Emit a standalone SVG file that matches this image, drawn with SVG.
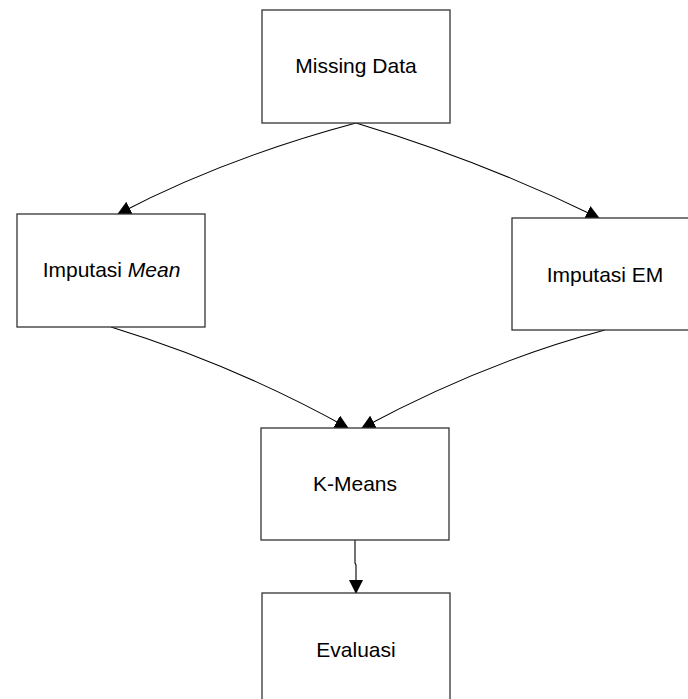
<svg xmlns="http://www.w3.org/2000/svg" width="688" height="699" viewBox="0 0 688 699">
<style>
.box{fill:#fff;stroke:#333;stroke-width:1.3}
.lbl{font-family:"Liberation Sans",Arial,sans-serif;font-size:21px;fill:#000;text-anchor:middle}
.con{fill:none;stroke:#000;stroke-width:1.1}
</style>
<defs>
<marker id="arr" viewBox="0 0 14 14" refX="13" refY="7" markerWidth="14" markerHeight="14" markerUnits="userSpaceOnUse" orient="auto">
<path d="M0,0 L14,7 L0,14 Z" fill="#000"/>
</marker>
</defs>
<rect width="688" height="699" fill="#fff"/>
<g id="connectors">
<path class="con" d="M356,123 Q225,158 118,214" marker-end="url(#arr)"/>
<path class="con" d="M356,123 Q485,162 599,218" marker-end="url(#arr)"/>
<path class="con" d="M111,327 Q235,365 348,428" marker-end="url(#arr)"/>
<path class="con" d="M605,330 Q485,362 362,428" marker-end="url(#arr)"/>
<path class="con" d="M355,540 L355,563 L356,565 L356,593" marker-end="url(#arr)"/>
</g>
<g id="missing-data">
<rect class="box" x="262" y="10" width="188" height="113"/>
<text class="lbl" x="356" y="73">Missing Data</text>
</g>
<g id="imputasi-mean">
<rect class="box" x="17" y="214" width="188" height="113"/>
<text class="lbl" x="111.5" y="277">Imputasi <tspan font-style="italic">Mean</tspan></text>
</g>
<g id="imputasi-em">
<rect class="box" x="512" y="218" width="186" height="112"/>
<text class="lbl" x="605" y="282">Imputasi EM</text>
</g>
<g id="k-means">
<rect class="box" x="261" y="428" width="188" height="112"/>
<text class="lbl" x="355" y="491">K-Means</text>
</g>
<g id="evaluasi">
<rect class="box" x="262" y="593" width="188" height="112"/>
<text class="lbl" x="356" y="657">Evaluasi</text>
</g>
</svg>
